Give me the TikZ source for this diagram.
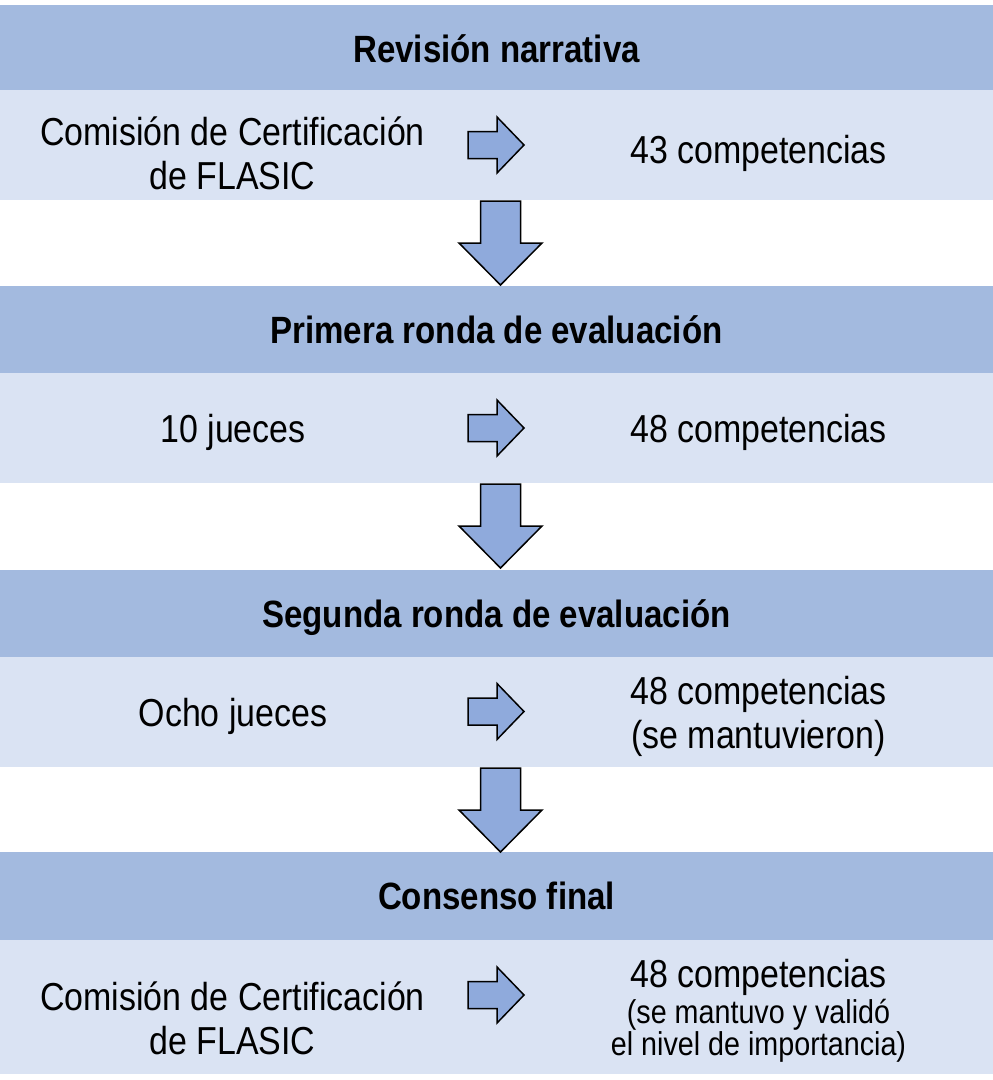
\documentclass[tikz,border=0pt]{standalone}
\usepackage{fontspec}
\setmainfont{Liberation Sans}[FakeStretch=0.87]
\definecolor{hdr}{HTML}{A3BADF}
\definecolor{cnt}{HTML}{DAE3F3}
\definecolor{arr}{HTML}{8FAADC}
\begin{document}
\begin{tikzpicture}[x=1pt,y=-1pt,
  band/.style={draw=none,inner sep=0pt,outer sep=0pt,minimum width=993pt,anchor=north west},
  hdrband/.style={band,fill=hdr},
  cntband/.style={band,fill=cnt},
  title/.style={font=\fontsize{38}{44}\selectfont\bfseries,anchor=base,inner sep=0pt},
  txt/.style={font=\fontsize{39}{44}\selectfont,align=center,anchor=base,inner sep=0pt},
  small/.style={font=\fontsize{33}{33}\selectfont,align=center,anchor=base,inner sep=0pt},
  blockarrow/.style={draw=black,fill=arr,line width=1.5pt,line join=miter}]
\useasboundingbox (0,0) rectangle (993,1080);
\fill[white] (0,0) rectangle (993,1080);
% bands
\node[hdrband,minimum height=85pt] (h1) at (0,5) {};
\node[cntband,minimum height=110pt] (c1) at (0,90) {};
\node[hdrband,minimum height=87pt] (h2) at (0,286) {};
\node[cntband,minimum height=110pt] (c2) at (0,373) {};
\node[hdrband,minimum height=87pt] (h3) at (0,570) {};
\node[cntband,minimum height=110pt] (c3) at (0,657) {};
\node[hdrband,minimum height=88pt] (h4) at (0,852) {};
\node[cntband,minimum height=134pt] (c4) at (0,940) {};
% titles
\node[title] (t1) at (496.5,62) {Revisión narrativa};
\node[title] (t2) at (496.5,343) {Primera ronda de evaluación};
\node[title] (t3) at (496.5,627) {Segunda ronda de evaluación};
\node[title] (t4) at (496.5,909.5) {Consenso final};
% row 1 (multi-line nodes: base = last line's baseline)
\node[txt] (l1) at (232.5,189) {Comisión de Certificación\\de FLASIC};
\node[txt] (r1) at (758.5,163) {43 competencias};
% row 2
\node[txt] (l2) at (233,442) {10 jueces};
\node[txt] (r2) at (758.5,442) {48 competencias};
% row 3
\node[txt] (l3) at (233,726) {Ocho jueces};
\node[txt] (r3) at (758.5,748) {48 competencias\\(se mantuvieron)};
% row 4
\node[txt] (l4) at (232.5,1054) {Comisión de Certificación\\de FLASIC};
\node[txt] (r4) at (758.5,987) {48 competencias};
\node[small] (r4b) at (758.5,1055) {(se mantuvo y validó\\[-1pt]el nivel de importancia)};
% right arrows
\coordinate (ra1) at (468,145);
\coordinate (ra2) at (468,428);
\coordinate (ra3) at (468,711.5);
\coordinate (ra4) at (468,995);
\foreach \a in {ra1,ra2,ra3,ra4}{
  \draw[blockarrow] (\a) ++(0,-13.5) -- ++(29,0) -- ++(0,-14.5) -- ++(27,28) -- ++(-27,28) -- ++(0,-14.5) -- ++(-29,0) -- cycle;
}
% down arrows
\coordinate (da1) at (c1.south -| 500.5,0);
\coordinate (da2) at (c2.south -| 500.5,0);
\coordinate (da3) at (c3.south -| 500.5,0);
\foreach \a in {da1,da2,da3}{
  \draw[blockarrow] (\a) ++(-20,1) -- ++(40,0) -- ++(0,42) -- ++(21.5,0) -- ++(-41.5,42) -- ++(-41.5,-42) -- ++(21.5,0) -- cycle;
}
\end{tikzpicture}
\end{document}
